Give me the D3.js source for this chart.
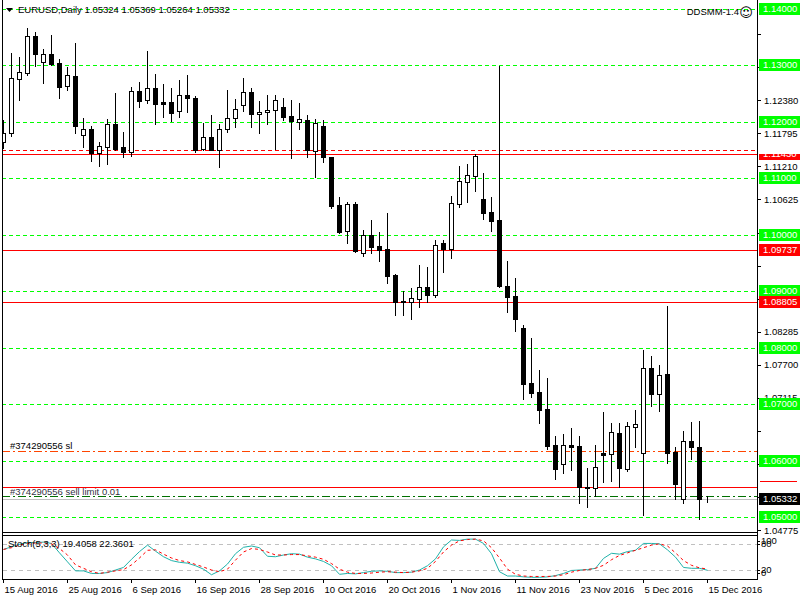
<!DOCTYPE html>
<html>
<head>
<meta charset="utf-8">
<script src="https://cdn.jsdelivr.net/npm/d3@7"></script>
<style>
  body { margin: 0; background: #fff; }
  text { font-family: "Liberation Sans", Arial, sans-serif; font-size: 9.5px; }
  line, rect { shape-rendering: crispEdges; }
</style>
</head>
<body>
<div id="chart"></div>
<script>
var title = "EURUSD,Daily  1.05324 1.05369 1.05264 1.05332";
var indicatorName = "DDSMM-1.4";
var stochTitle = "Stoch(5,3,3) 19.4058 22.3601";

// daily bars, 15 Aug 2016 .. 15 Dec 2016 (weekdays)
var opens = [1.11648,1.11807,1.12763,1.12869,1.13519,1.13064,1.13200,1.13035,1.12628,1.12811,
  1.11761,1.11873,1.11443,1.11559,1.11956,1.11549,1.11460,1.12545,1.12386,1.12593,
  1.12351,1.12351,1.12186,1.12474,1.12421,1.11524,1.11726,1.11501,1.11867,1.12062,
  1.12292,1.12522,1.12133,1.12168,1.12204,1.12257,1.12103,1.12002,1.12032,1.11489,
  1.11926,1.11377,1.10522,1.10062,1.10540,1.09673,1.09997,1.09802,1.09743,1.09289,
  1.08834,1.08811,1.08869,1.09071,1.08940,1.09855,1.09754,1.10551,1.10940,1.11046,
  1.10634,1.10404,1.10257,1.09094,1.08917,1.08345,1.07372,1.07213,1.06917,1.06280,
  1.05938,1.06285,1.06262,1.05527,1.05513,1.06143,1.06126,1.06497,1.05860,1.06604,
  1.06133,1.07637,1.07177,1.07531,1.06156,1.05319,1.06351,1.06239,1.05324];
var highs = [1.12032,1.13212,1.13142,1.13655,1.13584,1.13289,1.13536,1.13106,1.12970,1.13389,
  1.12062,1.11926,1.11637,1.12050,1.12510,1.11820,1.12621,1.12705,1.13253,1.12846,
  1.12669,1.12593,1.12740,1.12828,1.12457,1.11984,1.12120,1.11961,1.12563,1.12398,
  1.12770,1.12593,1.12374,1.12474,1.12474,1.12416,1.12381,1.12338,1.12120,1.12044,
  1.12032,1.11382,1.10669,1.10586,1.10575,1.10085,1.10262,1.10050,1.10386,1.09306,
  1.09011,1.09059,1.09466,1.09430,1.09903,1.09903,1.10687,1.11218,1.11253,1.11425,
  1.11089,1.10669,1.12988,1.09536,1.09230,1.08404,1.08168,1.07607,1.07460,1.06439,
  1.06474,1.06581,1.06439,1.05867,1.06280,1.06864,1.06664,1.06664,1.06692,1.06899,
  1.07961,1.07855,1.07696,1.08740,1.06250,1.06522,1.06687,1.06705,1.05369];
var lows = [1.11536,1.11754,1.12386,1.12828,1.12993,1.12692,1.13005,1.12427,1.12563,1.11797,
  1.11559,1.11312,1.11223,1.11253,1.11501,1.11382,1.11400,1.12262,1.12328,1.11966,
  1.12090,1.12020,1.12090,1.12179,1.11471,1.11501,1.11500,1.11205,1.11825,1.11913,
  1.12197,1.11913,1.11807,1.11956,1.11519,1.12032,1.11365,1.11878,1.11382,1.11028,
  1.11294,1.10480,1.10037,1.09850,1.09700,1.09630,1.09683,1.09542,1.09152,1.08581,
  1.08581,1.08510,1.08728,1.08811,1.08905,1.09347,1.09595,1.10487,1.10586,1.10781,
  1.10274,1.10073,1.09080,1.08639,1.08303,1.07089,1.07135,1.06664,1.06209,1.05678,
  1.05789,1.05837,1.05258,1.05188,1.05377,1.05630,1.05643,1.05542,1.05825,1.06250,
  1.05041,1.06975,1.06887,1.05966,1.05319,1.05258,1.06032,1.04965,1.05264];
var closes = [1.11807,1.12770,1.12876,1.13519,1.13205,1.13195,1.13028,1.12621,1.12823,1.11931,
  1.11873,1.11443,1.11566,1.11956,1.11524,1.11460,1.12540,1.12374,1.12593,1.12310,
  1.12320,1.12161,1.12469,1.12427,1.11501,1.11726,1.11505,1.11867,1.12062,1.12221,
  1.12522,1.12133,1.12174,1.12209,1.12381,1.12090,1.12020,1.12050,1.11501,1.11984,
  1.11372,1.10515,1.10055,1.10545,1.09705,1.09997,1.09789,1.09726,1.09276,1.08811,
  1.08811,1.08882,1.09071,1.08940,1.09814,1.09749,1.10558,1.10952,1.11059,1.11395,
  1.10391,1.10250,1.09085,1.08905,1.08515,1.07365,1.07205,1.06905,1.06267,1.05860,
  1.06280,1.06250,1.05531,1.05536,1.05885,1.06108,1.06505,1.05878,1.06616,1.06646,
  1.07637,1.07177,1.07524,1.06143,1.05595,1.06345,1.06250,1.05329,1.05332];

var stochK = [68,74,80,84,84,85,82,60,39,18, 18,12,12,14,20,26,45,63,78,64,
  51,42,38,36,30,22,9,18,34,58, 73,76,72,52,51,55,58,57,50,46,
  40,30,10,12,11,14,17,18,17,14, 14,15,20,30,46,74,90,89,92,92,
  82,58,16,6,6,4,3,3,4,7, 12,19,20,21,24,47,59,57,63,66,
  82,82,81,67,50,26,24,24,19.41];
var stochD = [68,72,78,82,83,83,81,70,55,32, 24,16,12,15,18,21,32,48,66,67,
  57,48,42,39,33,27,20,16,22,43, 62,70,68,62,55,55,56,56,53,50,
  45,35,22,15,12,12,13,15,16,15, 14,15,18,24,40,62,78,88,91,92,
  88,72,48,22,10,6,5,5,5,6, 9,15,19,21,24,31,44,54,60,66,
  72,78,81,76,60,42,31,25,22.36];

var dateTickIdx = [0,8,16,24,32,40,48,56,64,72,80,88];
var dateTickLabels = ["15 Aug 2016","25 Aug 2016","6 Sep 2016","16 Sep 2016","28 Sep 2016","10 Oct 2016",
  "20 Oct 2016","1 Nov 2016","11 Nov 2016","23 Nov 2016","5 Dec 2016","15 Dec 2016"];

var priceTicks = [1.13550,1.12965,1.12380,1.11795,1.11210,1.10625,1.10040,1.09455,
  1.08870,1.08285,1.07700,1.07115,1.06530,1.05945,1.05360,1.04775];
var priceTickText = ["","1.12965","1.12380","1.11795","1.11210","1.10625","1.10040","",
  "1.08870","1.08285","1.07700","1.07115","","1.05945","1.05360","1.04775"];

var greenLevels = [1.14,1.13,1.12,1.11,1.10,1.09,1.08,1.07,1.06,1.05];
var redLevels = [1.11430,1.09737,1.08805,1.05536];
var redLabelLevels = [1.11430,1.09737,1.08805];
var redDashLevel = 1.11501;
var slLevel = 1.06168, slText = "#374290556 sl";
var limitLevel = 1.05382, limitText = "#374290556 sell limit 0.01";
var bid = 1.05332;
var stochLevels = [80,20];
var stochTicks = [100,80,20,0];

var W = 800, H = 600;
var left = 2, right = 757, mainBottom = 532, stTop = 535, stBottom = 579;

var svg = d3.select("#chart").append("svg")
  .attr("width", W).attr("height", H)
  .style("display", "block");

var x = d3.scaleLinear().domain([0, 88]).range([3, 707]);
var y = d3.scaleLinear().domain([1.05, 1.13]).range([517.3, 65.3]);
var ys = d3.scaleLinear().domain([0, 100]).range([578.6, 535.7]);

function py(v) { return Math.round(y(v)) + 0.5; }

var defs = svg.append("defs");
defs.append("clipPath").attr("id", "mainClip")
  .append("rect").attr("x", left).attr("y", 0).attr("width", right - left).attr("height", mainBottom);

var main = svg.append("g").attr("clip-path", "url(#mainClip)");

// horizontal levels
main.selectAll(".green").data(greenLevels).enter().append("line")
  .attr("x1", left).attr("x2", right)
  .attr("y1", py).attr("y2", py)
  .attr("stroke", "#00ff00").attr("stroke-dasharray", "4,3");

main.append("line")
  .attr("x1", left).attr("x2", right)
  .attr("y1", py(redDashLevel)).attr("y2", py(redDashLevel))
  .attr("stroke", "#ff0000").attr("stroke-dasharray", "4,3");

main.selectAll(".red").data(redLevels).enter().append("line")
  .attr("x1", left).attr("x2", right)
  .attr("y1", py).attr("y2", py)
  .attr("stroke", "#ff0000");

main.append("line")
  .attr("x1", left).attr("x2", right)
  .attr("y1", py(slLevel)).attr("y2", py(slLevel))
  .attr("stroke", "#ff4500").attr("stroke-dasharray", "8,3,2,3");

main.append("line")
  .attr("x1", left).attr("x2", right)
  .attr("y1", py(limitLevel)).attr("y2", py(limitLevel))
  .attr("stroke", "#007000").attr("stroke-dasharray", "8,3,2,3");

main.append("line")
  .attr("x1", left).attr("x2", right)
  .attr("y1", py(bid)).attr("y2", py(bid))
  .attr("stroke", "#c0c0c0");

// candles
var bars = d3.range(opens.length).map(function(i) {
  return {i: i, o: opens[i], h: highs[i], l: lows[i], c: closes[i]};
});

var candle = main.selectAll(".candle").data(bars).enter().append("g");

candle.append("line")
  .attr("x1", function(d) { return Math.round(x(d.i)) + 0.5; })
  .attr("x2", function(d) { return Math.round(x(d.i)) + 0.5; })
  .attr("y1", function(d) { return Math.round(y(d.h)); })
  .attr("y2", function(d) { return Math.round(y(d.l)) + 1; })
  .attr("stroke", "#000");

candle.filter(function(d) { return d.c < d.o; }).append("rect")
  .attr("x", function(d) { return Math.round(x(d.i)) - 2; })
  .attr("width", 5)
  .attr("y", function(d) { return Math.round(y(d.o)); })
  .attr("height", function(d) { return Math.max(1, Math.round(y(d.c)) - Math.round(y(d.o)) + 1); })
  .attr("fill", "#000");

candle.filter(function(d) { return d.c >= d.o; }).append("rect")
  .attr("x", function(d) { return Math.round(x(d.i)) - 1.5; })
  .attr("width", 4)
  .attr("y", function(d) { return Math.round(y(d.c)) + 0.5; })
  .attr("height", function(d) { return Math.max(0, Math.round(y(d.o)) - Math.round(y(d.c))); })
  .attr("fill", "#fff").attr("stroke", "#000");

// order labels
main.append("text").attr("x", 10).attr("y", py(slLevel) - 6)
  .attr("dy", "0.32em").attr("fill", "#000").text(slText);
main.append("text").attr("x", 10).attr("y", py(limitLevel) - 5)
  .attr("dy", "0.32em").attr("fill", "#334").text(limitText);

// header
main.append("path").attr("d", "M6,8 L13,8 L9.5,12 Z").attr("fill", "#000");
main.append("text").attr("x", 18).attr("y", 10).attr("dy", "0.32em")
  .attr("fill", "#000").text(title);
main.append("text").attr("x", 739).attr("y", 12).attr("dy", "0.32em")
  .attr("text-anchor", "end").attr("fill", "#000").text(indicatorName);
main.append("text").attr("x", 746).attr("y", 12).attr("dy", "0.35em")
  .attr("text-anchor", "middle").style("font-family", "DejaVu Sans").style("font-size", "13px")
  .attr("fill", "#000").text("\u263A");

// frames
svg.append("line").attr("x1", left + 0.5).attr("x2", left + 0.5).attr("y1", 0).attr("y2", stBottom)
  .attr("stroke", "#000");
svg.append("line").attr("x1", right + 0.5).attr("x2", right + 0.5).attr("y1", 0).attr("y2", stBottom)
  .attr("stroke", "#000");
svg.append("line").attr("x1", left).attr("x2", right + 1).attr("y1", mainBottom + 0.5).attr("y2", mainBottom + 0.5)
  .attr("stroke", "#000");
svg.append("rect").attr("x", left + 0.5).attr("y", stTop + 0.5)
  .attr("width", right - left).attr("height", stBottom - stTop)
  .attr("fill", "none").attr("stroke", "#000");

// price axis
var yAxis = svg.append("g")
  .attr("transform", "translate(" + (right + 1) + ",0)")
  .call(d3.axisRight(y).tickValues(priceTicks).tickSize(3).tickPadding(3)
    .tickFormat(function(d, i) { return priceTickText[i]; }));
yAxis.select(".domain").remove();
yAxis.selectAll("text").attr("fill", "#000").style("font-size", "9.5px").style("font-family", "Liberation Sans, Arial, sans-serif");

function levelLabel(g, v, bg) {
  var yy = Math.round(y(v));
  g.append("rect").attr("x", right + 2).attr("y", yy - 6).attr("width", W - right - 2).attr("height", 12)
    .attr("fill", bg);
  g.append("text").attr("x", right + 6).attr("y", yy).attr("dy", "0.35em")
    .attr("fill", "#fff").text(d3.format(".5f")(v));
}

var labels = svg.append("g");
greenLevels.forEach(function(v) { levelLabel(labels, v, "#00ff00"); });

defs.append("clipPath").attr("id", "halfClip")
  .append("rect").attr("x", right).attr("y", Math.round(y(redLabelLevels[0]))).attr("width", 50).attr("height", 8);
redLabelLevels.forEach(function(v, i) {
  var g = labels.append("g");
  if (i === 0) g.attr("clip-path", "url(#halfClip)");
  levelLabel(g, v, "#ff0000");
});
labels.append("line").attr("x1", right + 3).attr("x2", W - 3)
  .attr("y1", Math.round(y(redLevels[3])) - 5.5).attr("y2", Math.round(y(redLevels[3])) - 5.5)
  .attr("stroke", "#ff0000");
levelLabel(labels, bid, "#000");

// stochastic panel
var sg = svg.append("g");
sg.selectAll(".slev").data(stochLevels).enter().append("line")
  .attr("x1", left + 1).attr("x2", right)
  .attr("y1", function(d) { return Math.round(ys(d)) + 0.5; })
  .attr("y2", function(d) { return Math.round(ys(d)) + 0.5; })
  .attr("stroke", "#c0c0c0").attr("stroke-dasharray", "4,4");

var lineK = d3.line().x(function(d, i) { return x(i) + 0.5; }).y(function(d) { return ys(d); });

sg.append("path").datum(stochK).attr("d", lineK)
  .attr("fill", "none").attr("stroke", "#20b2aa").attr("stroke-width", 1);
sg.append("path").datum(stochD).attr("d", lineK)
  .attr("fill", "none").attr("stroke", "#ff0000").attr("stroke-width", 1).attr("stroke-dasharray", "3,3");

sg.append("text").attr("x", 8).attr("y", 544).attr("dy", "0.32em").attr("fill", "#000").text(stochTitle);

var sAxis = svg.append("g")
  .attr("transform", "translate(" + (right + 1) + ",0)")
  .call(d3.axisRight(ys).tickValues(stochTicks).tickSize(2).tickPadding(1));
sAxis.select(".domain").remove();
sAxis.selectAll(".tick").attr("transform", function(d) {
  var yy = Math.min(Math.max(ys(d), stTop + 6), stBottom - 6);
  return "translate(0," + yy + ")";
});
sAxis.selectAll("text").attr("fill", "#000").style("font-size", "9.5px").style("font-family", "Liberation Sans, Arial, sans-serif");

// time axis
var xAxis = svg.append("g")
  .attr("transform", "translate(0," + (stBottom + 1) + ")")
  .call(d3.axisBottom(x).tickValues(dateTickIdx).tickSize(3).tickPadding(3)
    .tickFormat(function(d, i) { return dateTickLabels[i]; }));
xAxis.select(".domain").remove();
xAxis.selectAll(".tick").attr("transform", function(d) { return "translate(" + (Math.round(x(d)) + 0.5) + ",0)"; });
xAxis.selectAll("text").attr("text-anchor", "start").attr("x", 1).attr("fill", "#000")
  .style("font-size", "9.5px").style("font-family", "Liberation Sans, Arial, sans-serif");
</script>
</body>
</html>
